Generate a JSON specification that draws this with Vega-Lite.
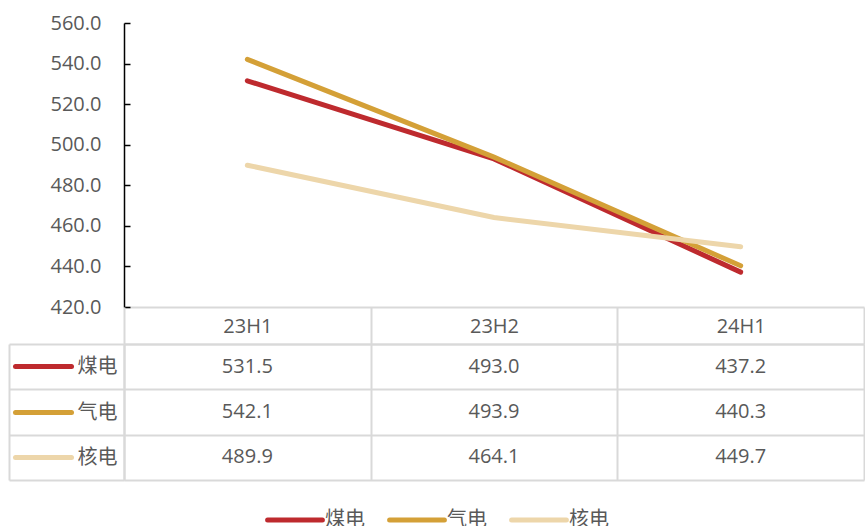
{
  "$schema": "https://vega.github.io/schema/vega-lite/v6.json",
  "padding": {"left": 8, "top": 13, "right": 0, "bottom": 2},
  "background": "white",
  "config": {
    "font": "Open Sans, Noto Sans CJK SC",
    "view": {"stroke": null},
    "axis": {"labelFont": "Open Sans, Noto Sans CJK SC", "labelFontSize": 20, "labelColor": "#595959", "title": null},
    "legend": {"labelFont": "Open Sans, Noto Sans CJK SC"}
  },
  "data": {
    "values": [
      {"period": "23H1", "series": "煤电", "value": 531.5},
      {"period": "23H2", "series": "煤电", "value": 493.0},
      {"period": "24H1", "series": "煤电", "value": 437.2},
      {"period": "23H1", "series": "气电", "value": 542.1},
      {"period": "23H2", "series": "气电", "value": 493.9},
      {"period": "24H1", "series": "气电", "value": 440.3},
      {"period": "23H1", "series": "核电", "value": 489.9},
      {"period": "23H2", "series": "核电", "value": 464.1},
      {"period": "24H1", "series": "核电", "value": 449.7}
    ]
  },
  "bounds": "flush",
  "spacing": 37,
  "vconcat": [
    {
      "width": 740,
      "height": 284,
      "mark": {"type": "line", "strokeWidth": 5, "strokeCap": "round"},
      "encoding": {
        "x": {
          "field": "period", "type": "nominal", "sort": ["23H1", "23H2", "24H1"],
          "scale": {"type": "point", "padding": 0.5},
          "axis": {"labels": false, "ticks": false, "grid": false, "domainColor": "#d9d9d9", "domainWidth": 2}
        },
        "y": {
          "field": "value", "type": "quantitative",
          "scale": {"domain": [420, 560], "nice": false, "zero": false},
          "axis": {
            "values": [420, 440, 460, 480, 500, 520, 540, 560],
            "format": ".1f", "grid": false,
            "domainColor": "#000000", "domainWidth": 1.5,
            "tickColor": "#000000", "tickWidth": 1.5, "tickSize": -6,
            "labelPadding": 29
          }
        },
        "color": {
          "field": "series", "type": "nominal",
          "sort": ["煤电", "气电", "核电"],
          "scale": {"domain": ["煤电", "气电", "核电"], "range": ["#BE2A2E", "#D4A037", "#EDD6AA"]},
          "legend": {
            "orient": "none", "legendX": 141, "legendY": 467,
            "direction": "horizontal", "title": null,
            "symbolType": "stroke", "symbolStrokeWidth": 5, "symbolSize": 3000,
            "labelFontSize": 20, "labelColor": "#595959", "labelOffset": 0,
            "columnPadding": 14,
            "encode": {"symbols": {"update": {"strokeCap": {"value": "round"}}}}
          }
        }
      }
    },
    {
      "width": 740,
      "height": 136,
      "resolve": {"scale": {"y": "independent"}, "axis": {"y": "independent"}},
      "layer": [
        {
          "mark": {"type": "text", "fontSize": 20, "color": "#595959"},
          "encoding": {
            "x": {
              "field": "period", "type": "nominal", "sort": ["23H1", "23H2", "24H1"],
              "scale": {"type": "band", "paddingInner": 0, "paddingOuter": 0},
              "axis": {
                "orient": "top", "tickBand": "extent", "tickSize": 37, "tickColor": "#d9d9d9", "tickWidth": 2,
                "domainColor": "#d9d9d9", "domainWidth": 2,
                "grid": true, "gridColor": "#d9d9d9", "gridWidth": 2,
                "labelBaseline": "middle", "labelPadding": -19, "labelAngle": 0
              }
            },
            "y": {
              "field": "series", "type": "nominal", "sort": ["煤电", "气电", "核电"],
              "scale": {"type": "band", "paddingInner": 0, "paddingOuter": 0},
              "axis": {
                "orient": "left", "tickBand": "extent", "tickSize": 115, "tickColor": "#d9d9d9", "tickWidth": 2,
                "domainColor": "#d9d9d9", "domainWidth": 2,
                "grid": true, "gridColor": "#d9d9d9", "gridWidth": 2,
                "labelAlign": "right", "labelPadding": -108
              }
            },
            "text": {"field": "value", "type": "quantitative", "format": ".1f"}
          }
        },
        {
          "mark": {"type": "text", "opacity": 0},
          "encoding": {
            "x": {"field": "period", "type": "nominal", "sort": ["23H1", "23H2", "24H1"]},
            "y": {
              "field": "series", "type": "nominal", "sort": ["煤电", "气电", "核电"],
              "scale": {"type": "band", "paddingInner": 0, "paddingOuter": 0},
              "axis": {
                "orient": "left", "offset": 53, "labels": false, "domain": false, "grid": false,
                "tickSize": 56, "tickWidth": 5, "tickCap": "round",
                "tickColor": {
                  "condition": [
                    {"test": "datum.value === '煤电'", "value": "#BE2A2E"},
                    {"test": "datum.value === '气电'", "value": "#D4A037"}
                  ],
                  "value": "#EDD6AA"
                }
              }
            },
            "text": {"field": "value", "type": "quantitative"}
          }
        },
        {
          "mark": {"type": "text", "opacity": 0},
          "encoding": {
            "x": {"field": "period", "type": "nominal", "sort": ["23H1", "23H2", "24H1"]},
            "y": {
              "field": "series", "type": "nominal", "sort": ["煤电", "气电", "核电"],
              "scale": {"type": "band", "paddingInner": 0, "paddingOuter": 0},
              "axis": {
                "orient": "left", "offset": 115, "labels": false, "ticks": false, "grid": false,
                "domain": true, "domainColor": "#d9d9d9", "domainWidth": 2
              }
            },
            "text": {"field": "value", "type": "quantitative"}
          }
        }
      ]
    }
  ]
}
